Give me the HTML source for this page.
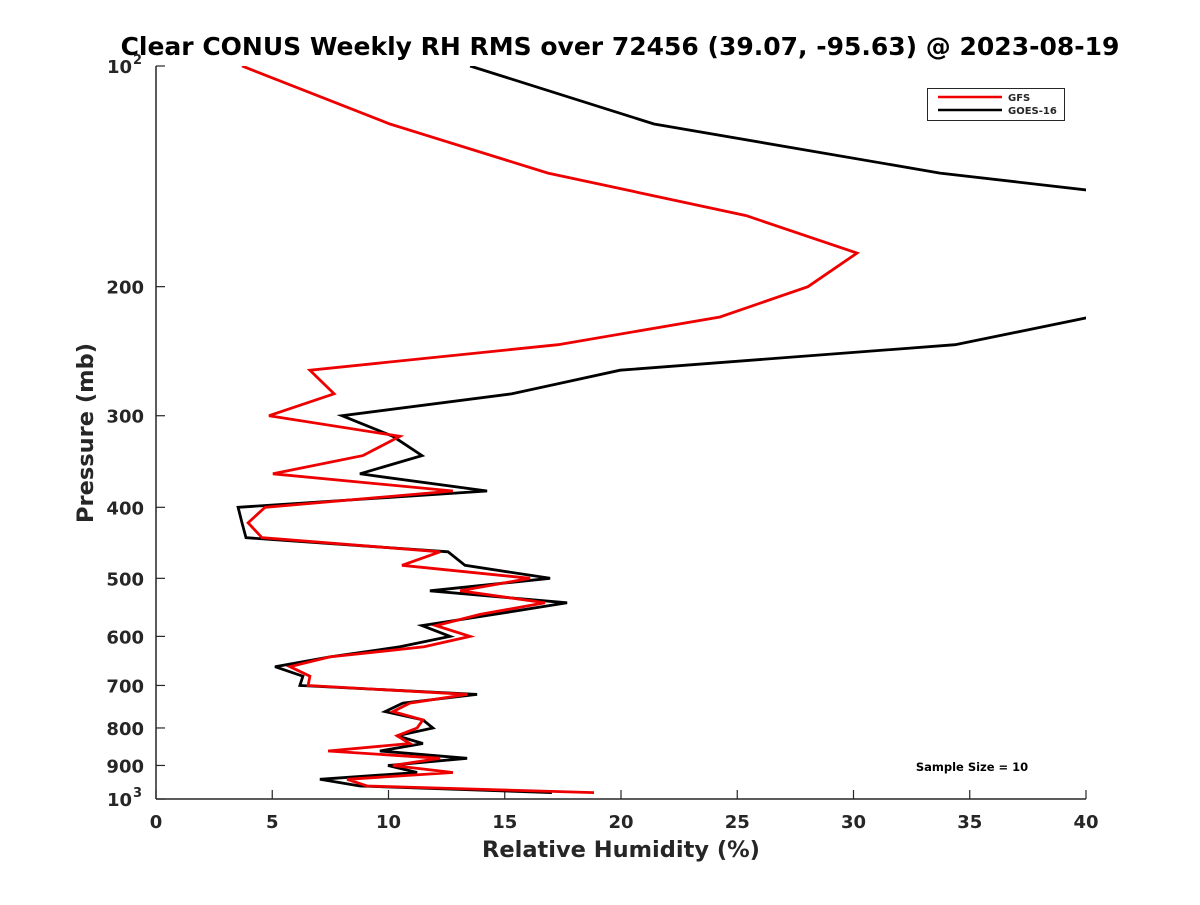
<!DOCTYPE html>
<html><head><meta charset="utf-8"><style>
body{margin:0;background:#fff}
svg text{font-family:"DejaVu Sans","Liberation Sans",sans-serif;font-weight:bold}
</style></head><body>
<svg id="chart" width="1200" height="900" viewBox="0 0 1200 900">
<defs><clipPath id="plotclip"><rect x="156" y="66" width="930" height="733"/></clipPath></defs>
<rect width="1200" height="900" fill="#fff"/>
<text x="620" y="55" text-anchor="middle" font-size="25" fill="#000">Clear CONUS Weekly RH RMS over 72456 (39.07, -95.63) @ 2023-08-19</text>
<g id="axes"></g>
<g id="series" clip-path="url(#plotclip)"></g>
<g>
<rect x="927.5" y="88.5" width="137" height="32" fill="#fff" stroke="#262626" stroke-width="1"/>
<line x1="938" y1="97" x2="1002" y2="97" stroke="#e00" stroke-width="2.5"/>
<text x="1008" y="101" font-size="10" fill="#262626">GFS</text>
<line x1="938" y1="110" x2="1002" y2="110" stroke="#000" stroke-width="2.5"/>
<text x="1008" y="114" font-size="10" fill="#262626">GOES-16</text>
</g>
<text x="972" y="771" text-anchor="middle" font-size="11.5" fill="#000">Sample Size = 10</text>
<text x="621" y="857" text-anchor="middle" font-size="22.5" fill="#262626">Relative Humidity (%)</text>
<text transform="translate(93,433) rotate(-90)" text-anchor="middle" font-size="22.5" fill="#262626">Pressure (mb)</text>
</svg>
<script>
const pressureLevels=[100,120,140,160,180,200,220,240,260,280,300,320,340,360,380,400,420,440,460,480,500,520,540,560,580,600,620,640,660,680,700,720,740,760,780,800,820,840,860,880,900,920,940,960,980];
const gfsRms=[3.70,10.06,16.86,25.38,30.15,28.04,24.26,17.29,6.62,7.66,4.86,10.49,8.90,5.03,12.77,4.69,3.96,4.56,12.22,10.58,16.09,13.08,16.73,13.94,12.04,13.51,11.53,7.48,5.76,6.62,6.54,13.38,10.92,10.19,11.48,11.23,10.37,10.92,7.40,12.22,10.19,12.77,8.22,9.08,18.84];
const goes16Rms=[13.51,21.42,33.72,49.6,53.5,49.2,40.2,34.37,19.96,15.31,8.0,10.19,11.44,8.77,14.24,3.53,3.70,3.87,12.56,13.29,16.95,11.78,17.68,14.54,11.44,12.65,10.49,7.48,5.12,6.32,6.19,13.81,10.62,9.85,11.48,11.91,10.37,11.48,9.63,13.38,9.98,11.23,7.05,8.77,17.03];
const xTicks=[0,5,10,15,20,25,30,35,40];
const yTicks=[100,200,300,400,500,600,700,800,900,1000];
const yTickLabels=["10|2","200","300","400","500","600","700","800","900","10|3"];

const X0=156,X1=1086,Y0=66,Y1=799;
const xs=v=>X0+(v-0)/(40-0)*(X1-X0);
const ys=p=>Y0+Math.log10(p/100)*(Y1-Y0);
const NS="http://www.w3.org/2000/svg";
function mk(tag,attrs,parent){const e=document.createElementNS(NS,tag);for(const k in attrs)e.setAttribute(k,attrs[k]);parent.appendChild(e);return e;}
const axes=document.getElementById('axes');
const ser=document.getElementById('series');
const xa=mk('line',{x1:X0,y1:Y1,x2:X1,y2:Y1,stroke:'#262626','stroke-width':1.5},axes);


const ya=mk('line',{x1:X0,y1:Y0,x2:X0,y2:Y1,stroke:'#262626','stroke-width':1.5},axes);


xTicks.forEach(t=>{
  const x=xs(t);
  const l=mk('line',{x1:x,y1:Y1,x2:x,y2:Y1-9,stroke:'#262626','stroke-width':1.2},axes);
  
  
  const tx=mk('text',{x:x,y:Y1+29,'text-anchor':'middle','font-size':18,fill:'#262626'},axes);
  tx.textContent=t;
  
  
});
yTicks.forEach((t,i)=>{
  const y=ys(t);
  const l=mk('line',{x1:X0,y1:y,x2:X0+9,y2:y,stroke:'#262626','stroke-width':1.2},axes);
  
  
  const tx=mk('text',{x:X0-12,y:y+7,'text-anchor':'end','font-size':18,fill:'#262626'},axes);
  const lab=yTickLabels[i];
  if(lab.includes('|')){const [b,e]=lab.split('|');tx.setAttribute('x',X0-24);tx.textContent=b;const s=mk('tspan',{dy:-9,'font-size':13,x:X0-24+1},tx);s.setAttribute('text-anchor','start');s.textContent=e;}
  else tx.textContent=lab;
  
  
});
function line(vals,color,name){
  const d=vals.map((v,i)=>(i?'L':'M')+xs(v).toFixed(1)+','+ys(pressureLevels[i]).toFixed(1)).join(' ');
  const p=mk('path',{d:d,fill:'none',stroke:color,'stroke-width':2.8,'stroke-linejoin':'miter'},ser);
  
  
}
line(goes16Rms,'#000','goes16-line');
line(gfsRms,'#e00','gfs-line');
</script>
</body></html>
